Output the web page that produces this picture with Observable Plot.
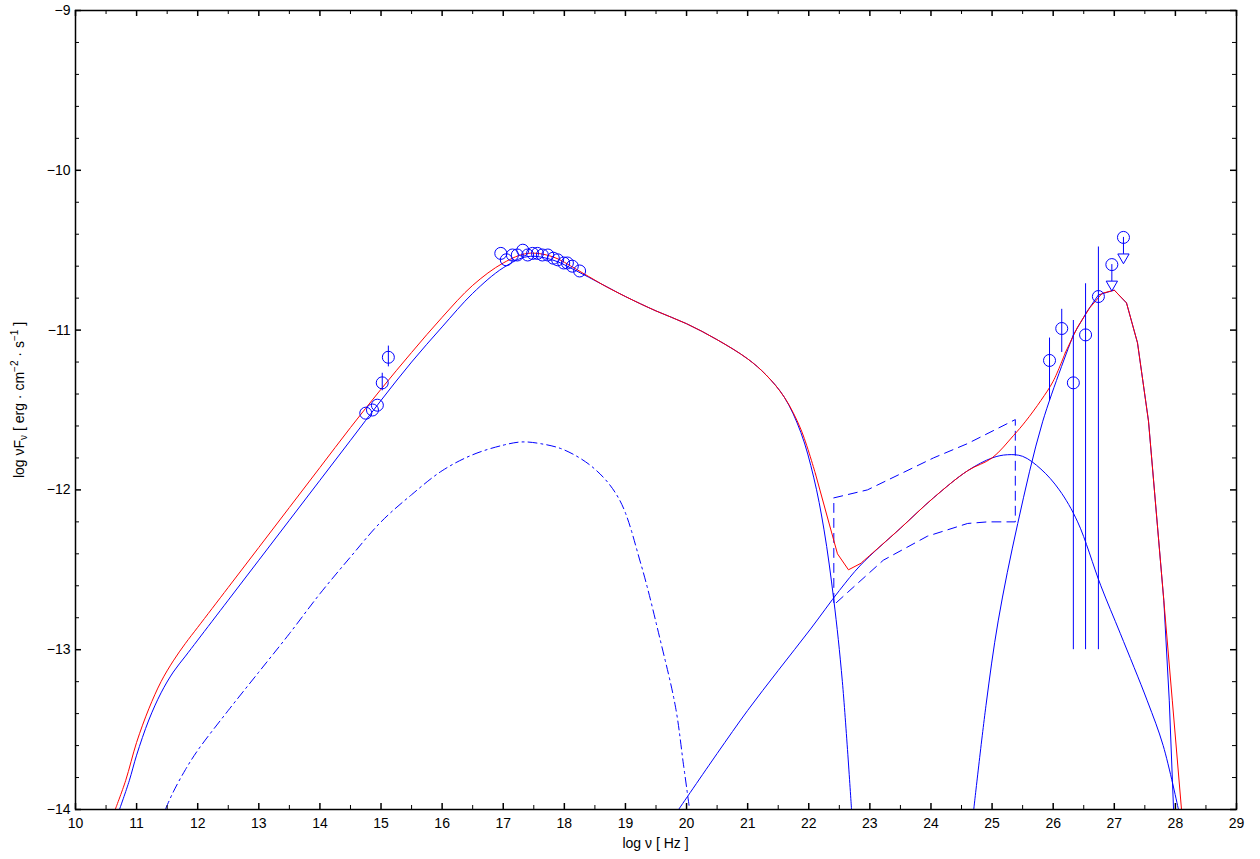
<!DOCTYPE html>
<html>
<head>
<meta charset="utf-8">
<script src="https://cdn.jsdelivr.net/npm/d3@7"></script>
<script src="https://cdn.jsdelivr.net/npm/@observablehq/plot@0.6"></script>
<style>
  html, body { margin: 0; padding: 0; background: #fff; }
  #chart svg { display: block; }
</style>
</head>
<body>
<div id="chart"></div>
<script>
// ---- tick labels ----
const xTicks = [10,11,12,13,14,15,16,17,18,19,20,21,22,23,24,25,26,27,28,29];
const yTicks = [-14,-13,-12,-11,-10,-9];

// ---- model curves (log nu, log nuFnu) ----
const redTotal = [[10.65,-14],[10.82,-13.82],[11.0,-13.58],[11.2,-13.37],[11.4,-13.2],[11.6,-13.07],[11.8,-12.96],[12.0,-12.86],[12.5,-12.61],[13.0,-12.36],[13.5,-12.11],[14.0,-11.86],[14.5,-11.61],[15.0,-11.37],[15.5,-11.14],[16.0,-10.92],[16.5,-10.72],[17.0,-10.58],[17.4,-10.52],[17.8,-10.54],[18.2,-10.62],[18.6,-10.71],[19.0,-10.79],[19.5,-10.88],[20.0,-10.96],[20.5,-11.06],[21.0,-11.18],[21.3,-11.28],[21.6,-11.42],[21.87,-11.62],[22.11,-11.9],[22.47,-12.4],[22.65,-12.5],[22.85,-12.46],[23.5,-12.24],[24.04,-12.05],[24.6,-11.88],[25.0,-11.8],[25.35,-11.66],[25.55,-11.57],[25.8,-11.44],[26.0,-11.32],[26.2,-11.14],[26.4,-10.98],[26.6,-10.86],[26.8,-10.77],[27.0,-10.75],[27.2,-10.83],[27.38,-11.08],[27.56,-11.57],[27.81,-12.69],[27.95,-13.32],[28.1,-14]];

const blueSync = [[10.72,-14],[10.88,-13.82],[11.0,-13.66],[11.2,-13.44],[11.4,-13.27],[11.6,-13.14],[11.8,-13.04],[12.0,-12.94],[12.5,-12.69],[13.0,-12.44],[13.5,-12.19],[14.0,-11.94],[14.5,-11.69],[15.0,-11.44],[15.5,-11.2],[16.0,-10.98],[16.5,-10.77],[17.0,-10.61],[17.4,-10.54],[17.8,-10.56],[18.2,-10.63],[18.6,-10.71],[19.0,-10.79],[19.5,-10.88],[20.0,-10.96],[20.5,-11.06],[21.0,-11.18],[21.3,-11.28],[21.6,-11.42],[21.87,-11.64],[22.08,-11.92],[22.25,-12.25],[22.41,-12.69],[22.55,-13.2],[22.7,-14]];

const blueSync2 = [[11.47,-14],[11.6,-13.89],[11.8,-13.75],[12.0,-13.63],[12.5,-13.38],[13.0,-13.14],[13.5,-12.9],[14.0,-12.65],[14.5,-12.42],[15.0,-12.2],[15.5,-12.03],[16.0,-11.88],[16.5,-11.78],[17.0,-11.72],[17.3,-11.7],[17.6,-11.71],[18.0,-11.75],[18.5,-11.87],[18.9,-12.06],[19.25,-12.46],[19.57,-12.94],[19.82,-13.36],[19.95,-13.72],[20.05,-14]];

const blueIC = [[19.87,-14],[20.5,-13.65],[21.0,-13.38],[21.5,-13.13],[22.03,-12.87],[22.5,-12.63],[22.85,-12.47],[23.5,-12.24],[24.04,-12.05],[24.6,-11.88],[25.0,-11.8],[25.25,-11.78],[25.5,-11.79],[25.8,-11.87],[26.1,-12.0],[26.4,-12.2],[26.78,-12.6],[27.1,-12.9],[27.54,-13.32],[27.8,-13.6],[28.05,-14]];

const blueSteep = [[24.7,-14],[24.9,-13.35],[25.1,-12.82],[25.42,-12.21],[25.83,-11.57],[26.33,-11.03],[26.56,-10.88],[26.74,-10.78],[27.0,-10.75],[27.2,-10.83],[27.38,-11.08],[27.56,-11.57],[27.81,-12.69],[27.9,-13.32],[27.97,-14]];

const bowtie = [[22.41,-12.05],[22.96,-12.0],[23.5,-11.9],[24.04,-11.8],[24.6,-11.71],[25.38,-11.56],[25.38,-12.2],[24.93,-12.2],[24.6,-12.21],[23.94,-12.29],[23.22,-12.44],[22.64,-12.64],[22.41,-12.72],[22.41,-12.05]];

// ---- measurements ----
const optX  = [14.75, 14.86, 14.94, 15.02, 15.12];
const optY  = [-11.52, -11.50, -11.47, -11.33, -11.17];
const optLo = [null, null, null, -11.38, -11.23];
const optHi = [null, null, null, -11.27, -11.10];

const xrX = [16.96, 17.05, 17.15, 17.23, 17.32, 17.40, 17.48, 17.56, 17.64, 17.73, 17.82, 17.89, 17.99, 18.05, 18.13, 18.25];
const xrY = [-10.52, -10.56, -10.53, -10.53, -10.50, -10.53, -10.52, -10.52, -10.53, -10.53, -10.55, -10.56, -10.58, -10.58, -10.60, -10.63];

const gX  = [25.94, 26.14, 26.33, 26.53, 26.74];
const gY  = [-11.19, -10.99, -11.33, -11.03, -10.79];
const gLo = [-11.44, -11.14, -13.0, -13.0, -13.0];
const gHi = [-11.05, -10.87, -10.94, -10.71, -10.48];

const ulX = [26.96, 27.15];
const ulY = [-10.59, -10.42];

// ---- build tables ----
const pts = (xs, ys) => xs.map((x, i) => ({x, y: ys[i]}));
const optical = optX.map((x, i) => ({x, y: optY[i], lo: optLo[i], hi: optHi[i]}));
const xray = pts(xrX, xrY);
const gamma = gX.map((x, i) => ({x, y: gY[i], lo: gLo[i], hi: gHi[i]}));
const uls = pts(ulX, ulY);
const allPts = [...optical, ...xray, ...gamma, ...uls];
const optErr = optical.filter(d => d.lo != null);

// curve pieces: smooth where the model is smooth, straight where the original polyline shows kinks
const within = (arr, a, b) => arr.filter(d => d[0] >= a && d[0] <= b);
const redSmoothA = within(redTotal, 0, 22.11);
const redKink    = within(redTotal, 22.11, 22.85);
const redSmoothB = within(redTotal, 22.85, 26.2);
const redPeak    = within(redTotal, 26.2, 30);
const steepSmooth = within(blueSteep, 0, 26.33);
const steepPeak   = within(blueSteep, 26.33, 30);

const xMinor = d3.range(10.5, 29, 1);
const yMinor = d3.range(-14, -9.0001, 0.2).map(v => Math.round(v*10)/10).filter(v => !Number.isInteger(v));

const W = 1260, H = 859;
const mL = 75, mR = 24, mT = 10, mB = 50;
const fW = W - mL - mR, fH = H - mT - mB;
const BLUE = "#0000ff", RED = "#ff0000";
const A = {x: d => d[0], y: d => d[1]};
const FONT = "'Liberation Sans', Arial, Helvetica, sans-serif";
const fmt = d => (d < 0 ? "\u2212" : "") + Math.abs(d);

const chart = Plot.plot({
  width: W, height: H,
  marginLeft: mL, marginRight: mR, marginTop: mT, marginBottom: mB,
  style: {fontFamily: FONT, fontSize: "14px", background: "#fff", color: "#000"},
  x: {domain: [10, 29]},
  y: {domain: [-14, -9]},
  marks: [
    // curves
    Plot.line(blueSync2, {...A, curve: "catmull-rom", stroke: BLUE, strokeWidth: 1, strokeDasharray: "9,4,2,4"}),
    Plot.line(bowtie, {...A, stroke: BLUE, strokeWidth: 1, strokeDasharray: "9,6"}),
    Plot.line(blueIC, {...A, curve: "catmull-rom", stroke: BLUE, strokeWidth: 1}),
    Plot.line(steepSmooth, {...A, curve: "catmull-rom", stroke: BLUE, strokeWidth: 1}),
    Plot.line(steepPeak, {...A, stroke: BLUE, strokeWidth: 1}),
    Plot.line(blueSync, {...A, curve: "catmull-rom", stroke: BLUE, strokeWidth: 1}),
    Plot.line(redSmoothA, {...A, curve: "catmull-rom", stroke: RED, strokeWidth: 1}),
    Plot.line(redKink, {...A, stroke: RED, strokeWidth: 1}),
    Plot.line(redSmoothB, {...A, curve: "catmull-rom", stroke: RED, strokeWidth: 1}),
    Plot.line(redPeak, {...A, stroke: RED, strokeWidth: 1}),
    // error bars
    Plot.ruleX(optErr, {x: "x", y1: "lo", y2: "hi", stroke: BLUE, strokeWidth: 1}),
    Plot.ruleX(gamma, {x: "x", y1: "lo", y2: "hi", stroke: BLUE, strokeWidth: 1}),
    // upper-limit arrows
    Plot.ruleX(uls, {x: "x", y1: "y", y2: d => d.y - 0.106, stroke: BLUE, strokeWidth: 1}),
    Plot.dot(uls, {x: "x", y: d => d.y - 0.124, symbol: "triangle", rotate: 180, r: 4.2, stroke: BLUE, fill: "none", strokeWidth: 1}),
    // data circles
    Plot.dot(allPts, {x: "x", y: "y", r: 6, stroke: BLUE, fill: "none", strokeWidth: 1}),
    // ticks inward (bottom/top, left/right)
    Plot.ruleX(xTicks, {x: d => d, insetTop: fH - 6, stroke: "#000", strokeWidth: 1.5}),
    Plot.ruleX(xTicks, {x: d => d, insetBottom: fH - 6, stroke: "#000", strokeWidth: 1.5}),
    Plot.ruleX(xMinor, {x: d => d, insetTop: fH - 4, stroke: "#000", strokeWidth: 1}),
    Plot.ruleX(xMinor, {x: d => d, insetBottom: fH - 4, stroke: "#000", strokeWidth: 1}),
    Plot.ruleY(yTicks, {y: d => d, insetRight: fW - 6, stroke: "#000", strokeWidth: 1.5}),
    Plot.ruleY(yTicks, {y: d => d, insetLeft: fW - 6, stroke: "#000", strokeWidth: 1.5}),
    Plot.ruleY(yMinor, {y: d => d, insetRight: fW - 4, stroke: "#000", strokeWidth: 1}),
    Plot.ruleY(yMinor, {y: d => d, insetLeft: fW - 4, stroke: "#000", strokeWidth: 1}),
    Plot.frame({stroke: "#000", strokeWidth: 1.5}),
    // tick labels
    Plot.axisX(xTicks, {tickSize: 0, tickPadding: 9, label: null, fontSize: 14, tickFormat: fmt}),
    Plot.axisY(yTicks, {tickSize: 0, tickPadding: 5, label: null, fontSize: 14, tickFormat: fmt})
  ]
});

document.getElementById("chart").appendChild(chart);

// axis titles with sub/superscripts
const svg = d3.select(chart);
svg.append("text")
  .attr("x", mL + fW / 2).attr("y", 848)
  .attr("text-anchor", "middle")
  .attr("font-family", FONT)
  .attr("font-size", 14)
  .attr("fill", "#000")
  .text("log \u03bd [ Hz ]");

const yl = svg.append("text")
  .attr("transform", "translate(24,400) rotate(-90)")
  .attr("text-anchor", "middle")
  .attr("font-family", FONT)
  .attr("font-size", 14)
  .attr("fill", "#000");
yl.append("tspan").text("log \u03bdF");
yl.append("tspan").attr("font-size", 10).attr("dy", 3).text("\u03bd");
yl.append("tspan").attr("dy", -3).text(" [ erg \u00b7 cm");
yl.append("tspan").attr("font-size", 10).attr("dy", -6).text("\u22122");
yl.append("tspan").attr("dy", 6).text(" \u00b7 s");
yl.append("tspan").attr("font-size", 10).attr("dy", -6).text("\u22121");
yl.append("tspan").attr("dy", 6).text(" ]");
</script>
</body>
</html>
